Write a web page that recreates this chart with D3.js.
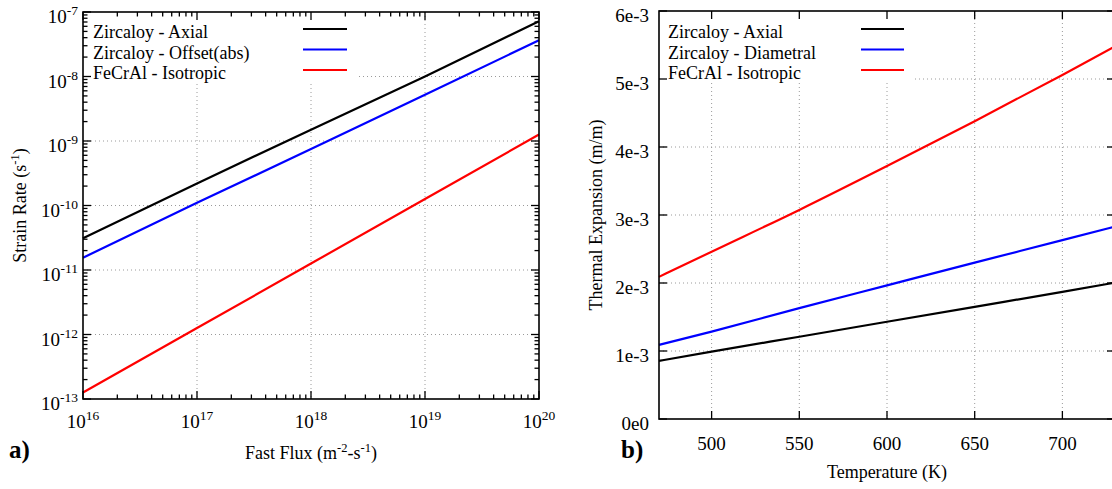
<!DOCTYPE html>
<html>
<head>
<meta charset="utf-8">
<script src="https://cdn.jsdelivr.net/npm/d3@7"></script>
<style>
  body { margin: 0; background: #fff; }
  svg text { font-family: "Liberation Serif", "Times New Roman", Times, "DejaVu Serif", serif; fill: #000; }
</style>
</head>
<body>
<svg id="chart" width="1112" height="489" font-family="Liberation Serif, Times New Roman, serif"></svg>
<script>
// ---- Panel a: irradiation strain rate vs fast flux ----
const flux = [1e16, 1e17, 1e18, 1e19, 1e20];
const zrAxialRate = [3.1e-11, 2.2e-10, 1.5e-9, 1.0e-8, 7.2e-8];
const zrOffsetRate = [1.55e-11, 1.1e-10, 7.5e-10, 5.2e-9, 3.65e-8];
const fecralRate = [1.26e-13, 1.26e-12, 1.26e-11, 1.26e-10, 1.26e-9];
const fluxTickExps = [16, 17, 18, 19, 20];
const rateTickExps = [-13, -12, -11, -10, -9, -8, -7];
const legendA = ["Zircaloy - Axial", "Zircaloy - Offset(abs)", "FeCrAl - Isotropic"];

// ---- Panel b: thermal expansion vs temperature ----
const temps = [470, 500, 550, 600, 650, 700, 730];
const zrAxialExp = [0.855e-3, 0.99e-3, 1.21e-3, 1.43e-3, 1.65e-3, 1.87e-3, 2.005e-3];
const zrDiamExp = [1.09e-3, 1.285e-3, 1.63e-3, 1.965e-3, 2.30e-3, 2.63e-3, 2.83e-3];
const fecralExp = [2.09e-3, 2.46e-3, 3.075e-3, 3.72e-3, 4.38e-3, 5.06e-3, 5.48e-3];
const tempTicks = [500, 550, 600, 650, 700];
const expTicks = [0, 1e-3, 2e-3, 3e-3, 4e-3, 5e-3, 6e-3];
const expTickLabels = ["0e0", "1e-3", "2e-3", "3e-3", "4e-3", "5e-3", "6e-3"];
const legendB = ["Zircaloy - Axial", "Zircaloy - Diametral", "FeCrAl - Isotropic"];

const seriesColors = ["#000000", "#0000ff", "#ff0000"];

const FONT = "'Liberation Serif', 'Times New Roman', serif";
const svg = d3.select("#chart");
const TICK_FS = 19, SUP_FS = 13.5, LABEL_FS = 18;

function txt(g) {
  return g.append("text").attr("font-family", FONT).attr("fill", "#000");
}

function gridStyle(sel) {
  return sel.attr("stroke", "#9a9a9a").attr("stroke-width", 1).attr("stroke-dasharray", "1,3");
}

function supText(g, x, y, anchor, base, sup, fs, supFs, raise) {
  const t = txt(g).attr("x", x).attr("y", y)
    .attr("text-anchor", anchor).attr("font-size", fs);
  t.append("tspan").text(base);
  t.append("tspan").attr("font-size", supFs).attr("dy", -raise).text(sup);
  return t;
}

function drawLegend(g, labels, textX, sampleX0, sampleX1, rowsY) {
  labels.forEach((lab, i) => {
    txt(g).attr("x", textX).attr("y", rowsY[i] + 9)
      .attr("font-size", LABEL_FS).text(lab);
    g.append("line").attr("x1", sampleX0).attr("x2", sampleX1)
      .attr("y1", rowsY[i]).attr("y2", rowsY[i])
      .attr("stroke", seriesColors[i]).attr("stroke-width", 2.2);
  });
}

// ================= Panel a =================
{
  const L = 83, R = 539, T = 12, B = 399;
  const x = d3.scaleLog().domain([1e16, 1e20]).range([L, R]);
  const y = d3.scaleLog().domain([1e-13, 1e-7]).range([B, T]);
  const g = svg.append("g");

  // grid at decades
  fluxTickExps.slice(1, -1).forEach(e => {
    gridStyle(g.append("line").attr("x1", x(10 ** e)).attr("x2", x(10 ** e)).attr("y1", T).attr("y2", B));
  });
  rateTickExps.slice(1, -1).forEach(e => {
    gridStyle(g.append("line").attr("y1", y(10 ** e)).attr("y2", y(10 ** e)).attr("x1", L).attr("x2", R));
  });
  // key box area stays clear of grid
  g.append("rect").attr("x", L).attr("y", T).attr("width", 357 - L).attr("height", 81 - T).attr("fill", "#fff");

  // curves
  const line = d3.line().x((d, i) => x(flux[i])).y(d => y(d));
  [zrAxialRate, zrOffsetRate, fecralRate].forEach((s, i) => {
    g.append("path").attr("d", line(s)).attr("fill", "none")
      .attr("stroke", seriesColors[i]).attr("stroke-width", 2.2);
  });

  // ticks: major and minor on all four sides
  x.ticks().forEach(v => {
    const m = Math.round(v / 10 ** Math.floor(Math.log10(v) + 1e-9));
    const len = m === 1 ? 8 : 4.5;
    g.append("line").attr("x1", x(v)).attr("x2", x(v)).attr("y1", B).attr("y2", B - len).attr("stroke", "#000").attr("stroke-width", 1.3);
    g.append("line").attr("x1", x(v)).attr("x2", x(v)).attr("y1", T).attr("y2", T + len).attr("stroke", "#000").attr("stroke-width", 1.3);
  });
  y.ticks().forEach(v => {
    const m = Math.round(v / 10 ** Math.floor(Math.log10(v) + 1e-9));
    const len = m === 1 ? 8 : 4.5;
    g.append("line").attr("y1", y(v)).attr("y2", y(v)).attr("x1", L).attr("x2", L + len).attr("stroke", "#000").attr("stroke-width", 1.3);
    g.append("line").attr("y1", y(v)).attr("y2", y(v)).attr("x1", R).attr("x2", R - len).attr("stroke", "#000").attr("stroke-width", 1.3);
  });

  // frame
  g.append("rect").attr("x", L).attr("y", T).attr("width", R - L).attr("height", B - T)
    .attr("fill", "none").attr("stroke", "#000").attr("stroke-width", 1.6);

  // tick labels
  fluxTickExps.forEach(e => supText(g, x(10 ** e), B + 29, "middle", "10", String(e), TICK_FS, SUP_FS, 8));
  rateTickExps.forEach(e => supText(g, L - 5, y(10 ** e) + 11, "end", "10", String(e), TICK_FS, SUP_FS, 8));

  // axis titles
  const xt = txt(g).attr("x", (L + R) / 2).attr("y", 459).attr("text-anchor", "middle").attr("font-size", LABEL_FS);
  xt.append("tspan").text("Fast Flux (m");
  xt.append("tspan").attr("font-size", 12.5).attr("dy", -7).text("-2");
  xt.append("tspan").attr("dy", 7).text("-s");
  xt.append("tspan").attr("font-size", 12.5).attr("dy", -7).text("-1");
  xt.append("tspan").attr("dy", 7).text(")");

  const yt = txt(g).attr("transform", `translate(26,${(T + B) / 2}) rotate(-90)`)
    .attr("text-anchor", "middle").attr("font-size", LABEL_FS);
  yt.append("tspan").text("Strain Rate (s");
  yt.append("tspan").attr("font-size", 12.5).attr("dy", -7).text("-1");
  yt.append("tspan").attr("dy", 7).text(")");

  txt(g).attr("x", 9).attr("y", 458).attr("font-size", 25).attr("font-weight", "bold").text("a)");

  drawLegend(g, legendA, 93, 303, 347, [29, 49.5, 70]);
}

// ================= Panel b =================
{
  const L = 659, R = 1115, T = 11, B = 419;
  const x = d3.scaleLinear().domain([470, 730]).range([L, R]);
  const y = d3.scaleLinear().domain([0, 6e-3]).range([B, T]);
  const g = svg.append("g");

  tempTicks.forEach(v => {
    gridStyle(g.append("line").attr("x1", x(v)).attr("x2", x(v)).attr("y1", T).attr("y2", B));
  });
  expTicks.slice(1, -1).forEach(v => {
    gridStyle(g.append("line").attr("y1", y(v)).attr("y2", y(v)).attr("x1", L).attr("x2", R));
  });
  g.append("rect").attr("x", L).attr("y", T).attr("width", 914 - L).attr("height", 81 - T).attr("fill", "#fff");

  const line = d3.line().x((d, i) => x(temps[i])).y(d => y(d)).curve(d3.curveMonotoneX);
  [zrAxialExp, zrDiamExp, fecralExp].forEach((s, i) => {
    g.append("path").attr("d", line(s)).attr("fill", "none")
      .attr("stroke", seriesColors[i]).attr("stroke-width", 2.2);
  });

  tempTicks.forEach(v => {
    g.append("line").attr("x1", x(v)).attr("x2", x(v)).attr("y1", B).attr("y2", B - 8).attr("stroke", "#000").attr("stroke-width", 1.3);
    g.append("line").attr("x1", x(v)).attr("x2", x(v)).attr("y1", T).attr("y2", T + 8).attr("stroke", "#000").attr("stroke-width", 1.3);
  });
  expTicks.forEach(v => {
    g.append("line").attr("y1", y(v)).attr("y2", y(v)).attr("x1", L).attr("x2", L + 8).attr("stroke", "#000").attr("stroke-width", 1.3);
    g.append("line").attr("y1", y(v)).attr("y2", y(v)).attr("x1", R).attr("x2", R - 8).attr("stroke", "#000").attr("stroke-width", 1.3);
  });

  g.append("rect").attr("x", L).attr("y", T).attr("width", R - L).attr("height", B - T)
    .attr("fill", "none").attr("stroke", "#000").attr("stroke-width", 1.6);

  tempTicks.forEach(v => txt(g).attr("x", x(v)).attr("y", B + 31)
    .attr("text-anchor", "middle").attr("font-size", TICK_FS).text(v));
  expTicks.forEach((v, i) => txt(g).attr("x", L - 10).attr("y", y(v) + 11)
    .attr("text-anchor", "end").attr("font-size", TICK_FS).text(expTickLabels[i]));

  txt(g).attr("x", 887).attr("y", 478).attr("text-anchor", "middle")
    .attr("font-size", LABEL_FS).text("Temperature (K)");
  txt(g).attr("transform", `translate(602,${(T + B) / 2}) rotate(-90)`)
    .attr("text-anchor", "middle").attr("font-size", LABEL_FS).text("Thermal Expansion (m/m)");

  txt(g).attr("x", 621).attr("y", 458).attr("font-size", 25).attr("font-weight", "bold").text("b)");

  drawLegend(g, legendB, 668, 861, 904, [29, 49.5, 70]);
}
</script>
</body>
</html>
